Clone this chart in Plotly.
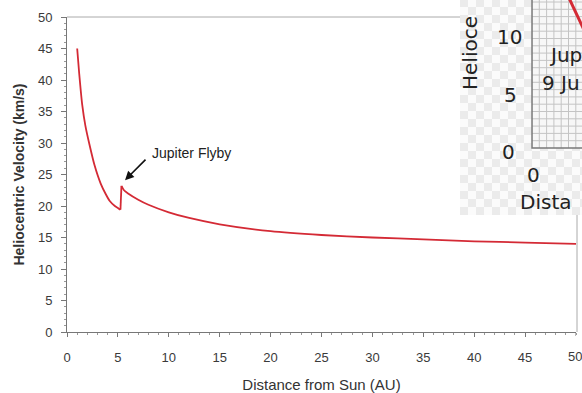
import plotly.graph_objects as go

# ---- data ----
dist_au = [1.0, 1.2, 1.5, 1.8, 2.2, 2.7, 3.3, 3.8, 4.2, 4.7, 5.0, 5.25,
           5.35, 5.6, 6.0, 7.0, 8.0, 10.0, 12.0, 15.0, 20.0, 25.0, 30.0,
           35.0, 40.0, 45.0, 50.0]
velocity = [45.0, 41.0, 36.0, 32.8, 29.8, 26.5, 23.6, 21.9, 20.8, 20.0, 19.7, 19.4,
            23.2, 22.5, 22.0, 21.0, 20.2, 19.0, 18.1, 17.1, 16.0, 15.4, 15.0,
            14.7, 14.4, 14.2, 14.0]
flyby_index = 11          # last point before the Jupiter gravity assist jump
x_ticks = [0, 5, 10, 15, 20, 25, 30, 35, 40, 45]
x_last_tick = 50
y_ticks = [0, 5, 10, 15, 20, 25, 30, 35, 40, 45, 50]
flyby_label = "Jupiter Flyby"
flyby_point = (5.7, 24.1)
label_point = (8.2, 28.4)

W, H = 582, 393
ML, MR, MT, MB = 67, 6, 17, 61
PW, PH = W - ML - MR, H - MT - MB


def PX(px):
    return (px - ML) / PW


def PY(py):
    return (H - MB - py) / PH


line_style = dict(color="#d42a35", width=1.8)
fig = go.Figure()
k = flyby_index
segments = [
    (dist_au[:k + 1], velocity[:k + 1], "spline"),
    (dist_au[k:k + 2], velocity[k:k + 2], "linear"),
    (dist_au[k + 1:], velocity[k + 1:], "spline"),
]
for xs, ys, shape in segments:
    fig.add_trace(go.Scatter(x=xs, y=ys, mode="lines",
                             line=dict(line_style, shape=shape, smoothing=0.7)
                             if shape == "spline" else line_style,
                             hoverinfo="skip", showlegend=False))

font_main = "Liberation Sans, Arial, sans-serif"
fig.update_layout(
    width=W, height=H,
    margin=dict(l=ML, r=MR, t=MT, b=MB, pad=0),
    paper_bgcolor="white", plot_bgcolor="white",
    font=dict(family=font_main, size=13, color="#3a3a3a"),
    xaxis=dict(range=[0, 50], tickvals=x_ticks, showline=True, linecolor="#777",
               linewidth=1, ticks="outside", ticklen=4, tickcolor="#777",
               minor=dict(dtick=1, ticks="outside", ticklen=2, tickcolor="#999"),
               showgrid=False, zeroline=False, ticklabelstandoff=9,
               automargin=False,
               title=dict(text="Distance from Sun (AU)", standoff=15,
                          font=dict(size=15, color="#333"))),
    yaxis=dict(range=[0, 50], tickvals=y_ticks, showline=True, linecolor="#777",
               linewidth=1, ticks="outside", ticklen=5, tickcolor="#777",
               minor=dict(dtick=1, ticks="outside", ticklen=2, tickcolor="#999"),
               showgrid=False, zeroline=False, ticklabelstandoff=6,
               automargin=False,
               title=dict(text="<b>Heliocentric Velocity (km/s)</b>", standoff=10,
                          font=dict(size=14, color="#333"))),
)

shapes = []
# top and right frame lines of the main chart
shapes.append(dict(type="line", xref="paper", yref="paper", x0=0, x1=PX(460),
                   y0=1, y1=1, line=dict(color="#aaa", width=1)))
shapes.append(dict(type="line", xref="paper", yref="paper", x0=PX(577), x1=PX(577),
                   y0=0, y1=PY(215), line=dict(color="#aaa", width=1)))
# the major tick at 50 (label drawn as annotation below)
shapes.append(dict(type="line", xref="x", yref="paper", x0=x_last_tick, x1=x_last_tick,
                   y0=0, y1=-4 / PH, line=dict(color="#777", width=1)))

# ---- overlaid inset picture (checkerboard, grid, partial labels) ----
IX0, IX1, IY0, IY1 = 460, 583, -1, 215
shapes.append(dict(type="rect", xref="paper", yref="paper", layer="above",
                   x0=PX(IX0), x1=PX(IX1), y0=PY(IY1), y1=PY(IY0),
                   fillcolor="#fbfbfb", line=dict(width=0)))
sq = 8
path = []
j = 0
py = IY0
while py < IY1:
    i = 0
    px = IX0
    while px < IX1:
        if (i + j) % 2 == 0:
            x0, x1 = PX(px), PX(min(px + sq, IX1))
            y0, y1 = PY(py), PY(min(py + sq, IY1))
            path.append(f"M{x0:.4f},{y0:.4f}H{x1:.4f}V{y1:.4f}H{x0:.4f}Z")
        px += sq
        i += 1
    py += sq
    j += 1
shapes.append(dict(type="path", xref="paper", yref="paper", layer="above",
                   path="".join(path), fillcolor="#ebebeb", line=dict(width=0)))

GX0, GX1, GY0, GY1 = 532, 583, -1, 148
shapes.append(dict(type="rect", xref="paper", yref="paper", layer="above",
                   x0=PX(GX0), x1=PX(GX1), y0=PY(GY1), y1=PY(GY0),
                   fillcolor="#f7f7f7", line=dict(width=0)))
step = 7.3
gx = GX0 + step
while gx < GX1:
    shapes.append(dict(type="line", xref="paper", yref="paper", layer="above",
                       x0=PX(gx), x1=PX(gx), y0=PY(GY1), y1=PY(GY0),
                       line=dict(color="#c4c4c4", width=1)))
    gx += step
gy = GY1 - step
while gy > GY0:
    shapes.append(dict(type="line", xref="paper", yref="paper", layer="above",
                       x0=PX(GX0), x1=PX(GX1), y0=PY(gy), y1=PY(gy),
                       line=dict(color="#c4c4c4", width=1)))
    gy -= step
shapes.append(dict(type="path", xref="paper", yref="paper", layer="above",
                   path=f"M{PX(GX0):.4f},{PY(GY0):.4f}V{PY(GY1):.4f}H{PX(GX1):.4f}",
                   line=dict(color="#7a7a7a", width=1.5)))
shapes.append(dict(type="line", xref="paper", yref="paper", layer="above",
                   x0=PX(569), x1=PX(584), y0=PY(-2), y1=PY(30),
                   line=dict(color="#d42a35", width=3)))
fig.update_layout(shapes=shapes)

inset_font = dict(family="DejaVu Sans, sans-serif", size=20, color="#222")
annotations = [
    dict(text="Helioce", x=PX(470), y=PY(53), textangle=-90),
    dict(text="10", x=PX(509), y=PY(37)),
    dict(text="5", x=PX(510), y=PY(95)),
    dict(text="0", x=PX(508), y=PY(152)),
    dict(text="0", x=PX(533), y=PY(175)),
    dict(text="Dista", x=PX(518), y=PY(202), xanchor="left"),
    dict(text="Jup", x=PX(547), y=PY(55), xanchor="left"),
    dict(text="9 Ju", x=PX(540), y=PY(83), xanchor="left"),
]
for a in annotations:
    a.setdefault("xanchor", "center")
    a.update(xref="paper", yref="paper", yanchor="middle", showarrow=False,
             font=inset_font)

# last x tick label (would be clipped by the figure edge otherwise)
annotations.append(dict(x=x_last_tick, y=0, xref="x", yref="paper",
                        text=str(x_last_tick), showarrow=False, xanchor="center",
                        yanchor="top", yshift=-15, xshift=-1,
                        font=dict(family=font_main, size=13, color="#3a3a3a")))

# flyby annotation
annotations.append(dict(x=flyby_point[0], y=flyby_point[1], xref="x", yref="y",
                        text="", showarrow=True, arrowhead=2, arrowsize=1.1,
                        arrowwidth=1.6, arrowcolor="#111", ax=22, ay=-22,
                        standoff=0))
annotations.append(dict(x=label_point[0], y=label_point[1], xref="x", yref="y",
                        text=flyby_label, showarrow=False, xanchor="left",
                        yanchor="middle",
                        font=dict(family=font_main, size=14, color="#222")))
fig.update_layout(annotations=annotations)

fig.write_html("out.html")
